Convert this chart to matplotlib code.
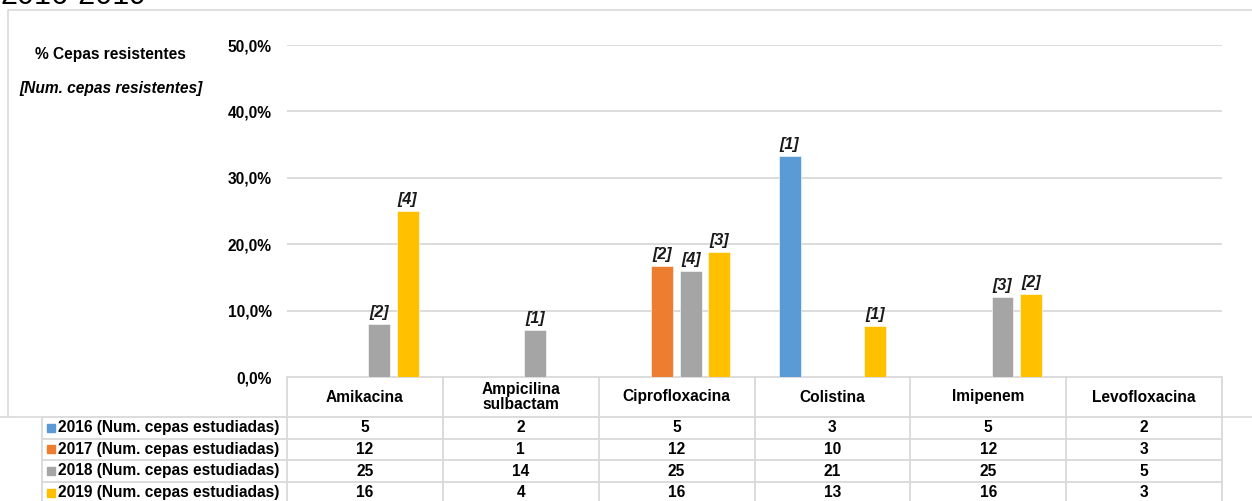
import numpy as np
import matplotlib
matplotlib.use('Agg')
import matplotlib.pyplot as plt

plt.rcParams['font.family'] = ['Liberation Sans', 'DejaVu Sans']

antibioticos = ['Amikacina', 'Ampicilina\nsulbactam', 'Ciprofloxacina',
                'Colistina', 'Imipenem', 'Levofloxacina']
anios = ['2016', '2017', '2018', '2019']
colores = ['#5B9BD5', '#ED7D31', '#A5A5A5', '#FFC000']

# % cepas resistentes (None = sin barra)
pct_2016 = [None, None, None, 33.3, None, None]
pct_2017 = [None, None, 16.7, None, None, None]
pct_2018 = [8.0, 7.1, 16.0, None, 12.0, None]
pct_2019 = [25.0, None, 18.8, 7.7, 12.5, None]

# num. cepas resistentes (etiquetas)
res_2016 = [None, None, None, 1, None, None]
res_2017 = [None, None, 2, None, None, None]
res_2018 = [2, 1, 4, None, 3, None]
res_2019 = [4, None, 3, 1, 2, None]

# num. cepas estudiadas (tabla)
est_2016 = [5, 2, 5, 3, 5, 2]
est_2017 = [12, 1, 12, 10, 12, 3]
est_2018 = [25, 14, 25, 21, 25, 5]
est_2019 = [16, 4, 16, 13, 16, 3]

pcts = [pct_2016, pct_2017, pct_2018, pct_2019]
ress = [res_2016, res_2017, res_2018, res_2019]
ests = [est_2016, est_2017, est_2018, est_2019]

W, H = 1252, 501
GRIS = '#d9d9d9'
FS = 11.2


def px(x0, y0, x1, y1):
    # pixel box (top-left origin) -> figure fraction rect
    return [x0 / W, 1 - y1 / H, (x1 - x0) / W, (y1 - y0) / H]


fig = plt.figure(figsize=(W / 100, H / 100), dpi=100)

# ---- bar chart ----
ax = fig.add_axes(px(287, 45, 1222, 377))
x = np.arange(len(antibioticos))
paso, ancho = 0.183, 0.141
for i in range(len(anios)):
    xs = x + (i - 1.5) * paso
    for xi, v, n in zip(xs, pcts[i], ress[i]):
        if v is None:
            continue
        ax.bar(xi, v, width=ancho, color=colores[i], edgecolor='white',
               linewidth=0.4, zorder=3)
        ax.annotate(f'[{n}]', (xi, v), xytext=(0, 3), textcoords='offset points',
                    ha='center', va='bottom', fontsize=11.5, fontweight='bold',
                    fontstyle='italic', color='#1a1a1a')

ax.set_xlim(-0.5, 5.5)
ax.set_ylim(0, 50)
ax.set_yticks(np.arange(0, 51, 10))
ax.set_yticklabels([f'{v:.1f}%'.replace('.', ',') for v in np.arange(0, 51, 10)],
                   fontsize=FS, fontweight='bold')
ax.tick_params(axis='y', length=0, pad=11)
ax.set_xticks([])
ax.grid(axis='y', color=GRIS, linewidth=1.3, zorder=0)
for s in ax.spines.values():
    s.set_visible(False)

fig.text(110 / W, 1 - 55 / H, '% Cepas resistentes', ha='center', va='center',
         fontsize=FS, fontweight='bold')
fig.text(111 / W, 1 - 89 / H, '[Num. cepas resistentes]', ha='center', va='center',
         fontsize=FS, fontweight='bold', fontstyle='italic')

# ---- data table ----
colw = 935 / 6
xmin = -0.5 - (287 - 42) / colw
tb = fig.add_axes(px(42, 377, 1222, 501))
tb.set_xlim(xmin, 5.5)
tb.set_ylim(124, 0)
tb.axis('off')

head = 40
rowh = 21.6
for k in range(7):
    tb.plot([k - 0.5, k - 0.5], [0, 130], color=GRIS, lw=1.3, clip_on=False)
tb.plot([xmin, xmin], [head, 130], color=GRIS, lw=1.3, clip_on=False)
tb.plot([-0.5, 5.5], [0, 0], color=GRIS, lw=1.3)
for r in range(4):
    yl = head + r * rowh
    tb.plot([xmin, 5.5], [yl, yl], color=GRIS, lw=1.3)

for j, nombre in enumerate(antibioticos):
    tb.text(j, head / 2, nombre, ha='center', va='center', fontsize=FS,
            fontweight='bold', linespacing=1.05)

for r in range(4):
    yc = head + r * rowh + rowh / 2
    tb.plot(xmin + 9 / colw, yc, marker='s', markersize=5.5, color=colores[r],
            linestyle='none', clip_on=False)
    tb.text(xmin + 16 / colw, yc, f'{anios[r]} (Num. cepas estudiadas)',
            ha='left', va='center', fontsize=FS, fontweight='bold')
    for j, n in enumerate(ests[r]):
        tb.text(j, yc, str(n), ha='center', va='center', fontsize=FS,
                fontweight='bold')

# ---- page bits: outer border, cut title ----
fig.add_artist(plt.Line2D([8 / W, 8 / W, 1], [1 - 417 / H, 1 - 10 / H, 1 - 10 / H],
                          color=GRIS, lw=1.2))
fig.add_artist(plt.Line2D([0, 42 / W], [1 - 417 / H, 1 - 417 / H], color=GRIS, lw=1.2))
fig.add_artist(plt.Line2D([1222 / W, 1], [1 - 417 / H, 1 - 417 / H], color=GRIS, lw=1.2))
fig.text(0, 1 - 4 / H, '2016-2019', fontsize=22, va='baseline', ha='left')

plt.savefig('out.png', dpi=100)
